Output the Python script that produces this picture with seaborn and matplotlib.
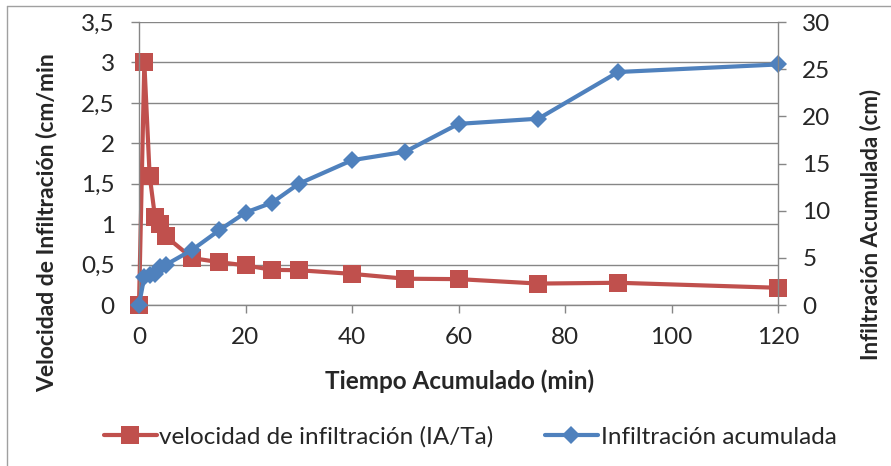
import numpy as np
import pandas as pd
import matplotlib
matplotlib.use("Agg")
import matplotlib.pyplot as plt
from matplotlib.lines import Line2D
from matplotlib.ticker import FuncFormatter
import seaborn as sns

# Accumulated time (min)
tiempo = [0, 1, 2, 3, 4, 5, 10, 15, 20, 25, 30, 40, 50, 60, 75, 90, 120]
# Infiltration rate (cm/min) = accumulated infiltration / accumulated time
velocidad = [0, 3.0, 1.6, 1.09, 1.0, 0.85, 0.58, 0.53, 0.49, 0.435, 0.43,
             0.385, 0.325, 0.32, 0.265, 0.275, 0.213]
# Accumulated infiltration (cm)
acumulada = [0, 3.0, 3.2, 3.27, 4.0, 4.25, 5.85, 7.9, 9.8, 10.85, 12.85,
             15.35, 16.25, 19.2, 19.75, 24.7, 25.5]

x_ticks = [0, 20, 40, 60, 80, 100, 120]
y_left_ticks = [0, 0.5, 1, 1.5, 2, 2.5, 3, 3.5]
y_right_ticks = [0, 5, 10, 15, 20, 25, 30]

df = pd.DataFrame({"tiempo": tiempo, "velocidad": velocidad, "acumulada": acumulada})

sns.set_style("white")
plt.rcParams["font.family"] = ["Lato", "DejaVu Sans"]

RED = "#C0504D"
BLUE = "#4F81BD"
GRID = "#868686"

W, H = 891, 466
fig = plt.figure(figsize=(W / 100, H / 100), dpi=100)
ax = fig.add_axes([139 / W, 1 - 305 / H, (778 - 139) / W, (305 - 22) / H])
ax2 = ax.twinx()

sns.lineplot(data=df, x="tiempo", y="velocidad", ax=ax, color=RED, linewidth=3,
             marker="s", markersize=13, markeredgecolor=RED, markeredgewidth=0,
             estimator=None, sort=False, clip_on=False)
sns.lineplot(data=df, x="tiempo", y="acumulada", ax=ax2, color=BLUE, linewidth=3,
             marker="D", markersize=9, markeredgecolor=BLUE, markeredgewidth=0,
             estimator=None, sort=False, clip_on=False)

ax.set_xlim(0, 120)
ax.set_ylim(0, 3.5)
ax2.set_ylim(0, 30)
ax.set_xticks(x_ticks)
ax.set_yticks(y_left_ticks)
ax2.set_yticks(y_right_ticks)

comma = FuncFormatter(lambda v, p: f"{v:g}".replace(".", ","))
ax.yaxis.set_major_formatter(comma)

ax.grid(axis="y", color=GRID, linewidth=1)
ax.grid(axis="x", visible=False)
ax2.grid(False)

for a in (ax, ax2):
    for s in a.spines.values():
        s.set_visible(False)
ax.spines["left"].set_visible(True)
ax.spines["bottom"].set_visible(True)
ax2.spines["right"].set_visible(True)
for s in (ax.spines["left"], ax.spines["bottom"], ax2.spines["right"]):
    s.set_color(GRID)
    s.set_linewidth(1)

ax.tick_params(axis="x", direction="out", length=5.5, width=1, color=GRID,
               labelsize=17.5, pad=10, bottom=True)
ax.tick_params(axis="y", direction="out", length=5.5, width=1, color=GRID,
               labelsize=17.5, pad=12, left=True)
ax2.tick_params(axis="y", direction="out", length=5.5, width=1, color=GRID,
                labelsize=17.5, pad=12, right=True)

ax.set_xlabel("Tiempo Acumulado (min)", fontsize=17.5, fontweight="bold")
ax.set_ylabel("Velocidad de Infiltración (cm/min", fontsize=16.5, fontweight="bold")
ax2.set_ylabel("Infiltración Acumulada (cm)", fontsize=16, fontweight="bold")

# axis titles placed in pixel positions of the chart layout
ax.xaxis.set_label_coords(0.5016, (305 - 381) / 283)
ax.xaxis.label.set_va("center")
ax.yaxis.set_label_coords((47 - 139) / 639, (305 - 223) / 283)
ax.yaxis.label.set_va("center")
ax2.yaxis.set_label_coords((871 - 139) / 639, (305 - 224) / 283)
ax2.yaxis.label.set_va("center")

handles = [
    Line2D([], [], color=RED, linewidth=3, marker="s", markersize=13, markeredgewidth=0),
    Line2D([], [], color=BLUE, linewidth=3, marker="D", markersize=9, markeredgewidth=0),
]
labels = ["velocidad de infiltración (IA/Ta)", "Infiltración acumulada"]
fig.legend(handles, labels, loc="center", bbox_to_anchor=(470 / W, 1 - 437 / H),
           ncol=2, frameon=False, fontsize=17.5, handlelength=2.2, handletextpad=0.1,
           columnspacing=2.1, borderpad=0, borderaxespad=0)

# chart area frame (left and top edges)
fig.add_artist(Line2D([7 / W, 7 / W], [0, 1 - 6 / H], transform=fig.transFigure,
                      color="#A0A0A0", linewidth=1))
fig.add_artist(Line2D([7 / W, 1], [1 - 6 / H, 1 - 6 / H], transform=fig.transFigure,
                      color="#A0A0A0", linewidth=1))

fig.savefig("out.png", dpi=100)
